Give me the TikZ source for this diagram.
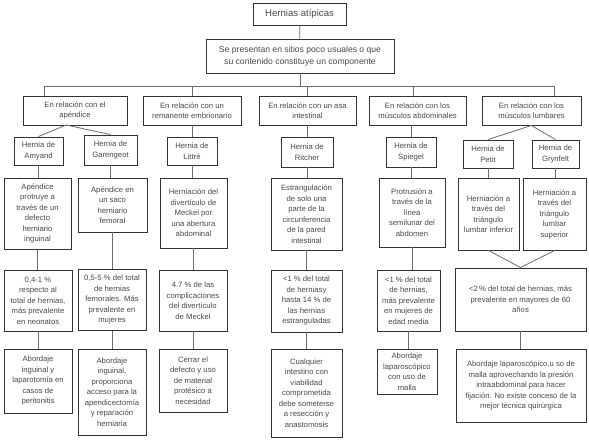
\documentclass[tikz,border=0pt]{standalone}
\usepackage{fontspec}
\setmainfont{Liberation Sans}
\definecolor{bordc}{HTML}{333333}
\definecolor{textc}{HTML}{4A4A4A}
\definecolor{linec}{HTML}{6E6E6E}
\begin{document}
\begin{tikzpicture}[x=1pt,y=-1pt,
  box/.style={draw=bordc, line width=0.9pt, fill=white, inner sep=0pt, align=center, text=textc, font=\fontsize{7.7}{10.5}\selectfont},
  conn/.style={draw=linec, line width=0.8pt}]
\useasboundingbox (0,0) rectangle (589,441);
\fill[white] (0,0) rectangle (589,441);
% level 1-2
\node[box, minimum width=93pt, minimum height=22pt, font=\fontsize{9.6}{12}\selectfont] (title) at (299.5,14) {Hernias atípicas};
\node[box, minimum width=188pt, minimum height=34pt, font=\fontsize{8.6}{12.4}\selectfont] (sub) at (300,56) {Se presentan en sitios poco usuales o que\\su contenido constituye un componente};
% categories
\node[box, minimum width=104pt, minimum height=29pt] (cat1) at (75,110.5) {En relación con el\\apéndice};
\node[box, minimum width=98pt, minimum height=29pt] (cat2) at (192,110.5) {En relación con un\\remanente embrionario};
\node[box, minimum width=97pt, minimum height=29pt] (cat3) at (307.5,110.5) {En relación con un asa\\intestinal};
\node[box, minimum width=97pt, minimum height=29pt] (cat4) at (417.5,110.5) {En relación con los\\músculos abdominales};
\node[box, minimum width=99pt, minimum height=29pt] (cat5) at (531.5,110.5) {En relación con los\\músculos lumbares};
% hernia names
\node[box, minimum width=49pt, minimum height=28pt] (amy) at (38.5,151) {Hernia de\\Amyand};
\node[box, minimum width=53pt, minimum height=30pt] (gar) at (110.5,150) {Hernia de\\Garengeot};
\node[box, minimum width=50pt, minimum height=28pt] (lit) at (192,151) {Hernia de\\Littré};
\node[box, minimum width=52pt, minimum height=30pt] (rit) at (307,152) {Hernia de\\Ritcher};
\node[box, minimum width=50pt, minimum height=30pt] (spg) at (411,152) {Hernia de\\Spiegel};
\node[box, minimum width=50pt, minimum height=28pt] (pet) at (488,154) {Hernia de\\Petit};
\node[box, minimum width=47pt, minimum height=28pt] (gry) at (555.5,154) {Hernia de\\Grynfelt};
% descriptions
\node[box, minimum width=67pt, minimum height=71pt] (amyD) at (37.5,213.5) {Apéndice\\protruye a\\través de un\\defecto\\herniario\\inguinal};
\node[box, minimum width=69pt, minimum height=54pt] (garD) at (112.5,205) {Apéndice en\\un saco\\herniario\\femoral};
\node[box, minimum width=67pt, minimum height=70pt] (litD) at (193.5,213) {Herniación del\\divertículo de\\Meckel por\\una abertura\\abdominal};
\node[box, minimum width=71pt, minimum height=72pt] (ritD) at (306.5,214) {Estrangulación\\de solo una\\parte de la\\circunferencia\\de la pared\\intestinal};
\node[box, minimum width=66pt, minimum height=69pt] (spgD) at (412,212.5) {Protrusión a\\través de la\\línea\\semilunar del\\abdomen};
\node[box, minimum width=61pt, minimum height=72pt] (petD) at (488.5,214) {Herniación a\\través del\\triángulo\\lumbar inferior};
\node[box, minimum width=63pt, minimum height=72pt] (gryD) at (554.5,214) {Herniación a\\través del\\triángulo\\lumbar\\superior};
% statistics
\node[box, minimum width=68pt, minimum height=61pt] (amyS) at (38,300.5) {0,4-1 \%\\respecto al\\total de hernias,\\más prevalente\\en neonatos};
\node[box, minimum width=68pt, minimum height=61pt] (garS) at (112,300) {0,5-5 \% del total\\de hernias\\femorales. Más\\prevalente en\\mujeres};
\node[box, minimum width=68pt, minimum height=61pt] (litS) at (193,300.5) {4.7 \% de las\\complicaciones\\del divertículo\\de Meckel};
\node[box, minimum width=71pt, minimum height=62pt] (ritS) at (306.5,301) {<1 \% del total\\de herniasy\\hasta 14 \% de\\las hernias\\estranguladas};
\node[box, minimum width=63pt, minimum height=61pt] (spgS) at (408.5,300.5) {<1 \% del total\\de hernias,\\más prevalente\\en mujeres de\\edad media};
\node[box, minimum width=131pt, minimum height=63pt] (lumS) at (520.5,299.5) {<2\,\% del total de hernias, más\\prevalente en mayores de 60\\años};
% treatment
\node[box, minimum width=68pt, minimum height=64pt] (amyT) at (38,381) {Abordaje\\inguinal y\\laparotomía en\\casos de\\peritonitis};
\node[box, minimum width=68pt, minimum height=86pt] (garT) at (112,392) {Abordaje\\inguinal,\\proporciona\\acceso para la\\apendicectomía\\y reparación\\herniaria};
\node[box, minimum width=68pt, minimum height=63pt] (litT) at (193,380.5) {Cerrar el\\defecto y uso\\de material\\protésico a\\necesidad};
\node[box, minimum width=71pt, minimum height=88pt] (ritT) at (306.5,393) {Cualquier\\intestino con\\viabilidad\\comprometida\\debe someterse\\a resección y\\anastomosis};
\node[box, minimum width=60pt, minimum height=45pt] (spgT) at (407,371.5) {Abordaje\\laparoscópico\\con uso de\\malla};
\node[box, minimum width=130pt, minimum height=73pt] (lumT) at (521,385.5) {Abordaje laparoscópico,u so de\\malla aprovechando la presión\\intraabdominal para hacer\\fijación. No existe conceso de la\\mejor técnica quirúrgica};
% connectors
\coordinate (b1) at (44,86);
\coordinate (b2) at (192,86);
\coordinate (b3) at (307,86);
\coordinate (b4) at (413,86);
\coordinate (b5) at (554,86);
\coordinate (c1) at (66,125);
\draw[conn] (title) -- (sub);
\draw[conn] (sub.south) -- (sub.south |- b1);
\draw[conn] (b1) -- (b5);
\draw[conn] (b1) -- (b1 |- cat1.north);
\draw[conn] (b2) -- (b2 |- cat2.north);
\draw[conn] (b3) -- (b3 |- cat3.north);
\draw[conn] (b4) -- (b4 |- cat4.north);
\draw[conn] (b5) -- (b5 |- cat5.north);
\draw[conn] (amy.north) -- (c1) -- (gar.north);
\draw[conn] (lit.north) -- (lit.north |- cat2.south);
\draw[conn] (rit.north) -- (rit.north |- cat3.south);
\draw[conn] (spg.north) -- (spg.north |- cat4.south);
\draw[conn] (pet.north) -- (cat5.south) -- (gry.north);
\draw[conn] (amy.south) -- (amy.south |- amyD.north);
\draw[conn] (gar.south) -- (gar.south |- garD.north);
\draw[conn] (lit.south) -- (lit.south |- litD.north);
\draw[conn] (rit.south) -- (rit.south |- ritD.north);
\draw[conn] (spg.south) -- (spg.south |- spgD.north);
\draw[conn] (pet.south) -- (pet.south |- petD.north);
\draw[conn] (gry.south) -- (gry.south |- gryD.north);
\draw[conn] (amyD.south) -- (amyD.south |- amyS.north);
\draw[conn] (garD.south) -- (garD.south |- garS.north);
\draw[conn] (litD.south) -- (litD.south |- litS.north);
\draw[conn] (ritD.south) -- (ritD.south |- ritS.north);
\draw[conn] (spgD.south) -- (spgD.south |- spgS.north);
\draw[conn] (petD.south) -- (lumS.north) -- (gryD.south);
\draw[conn] (amyS.south) -- (amyS.south |- amyT.north);
\draw[conn] (garS.south) -- (garS.south |- garT.north);
\draw[conn] (litS.south) -- (litS.south |- litT.north);
\draw[conn] (ritS.south) -- (ritS.south |- ritT.north);
\draw[conn] (spgS.south) -- (spgS.south |- spgT.north);
\draw[conn] (lumS.south) -- (lumS.south |- lumT.north);
\end{tikzpicture}
\end{document}
